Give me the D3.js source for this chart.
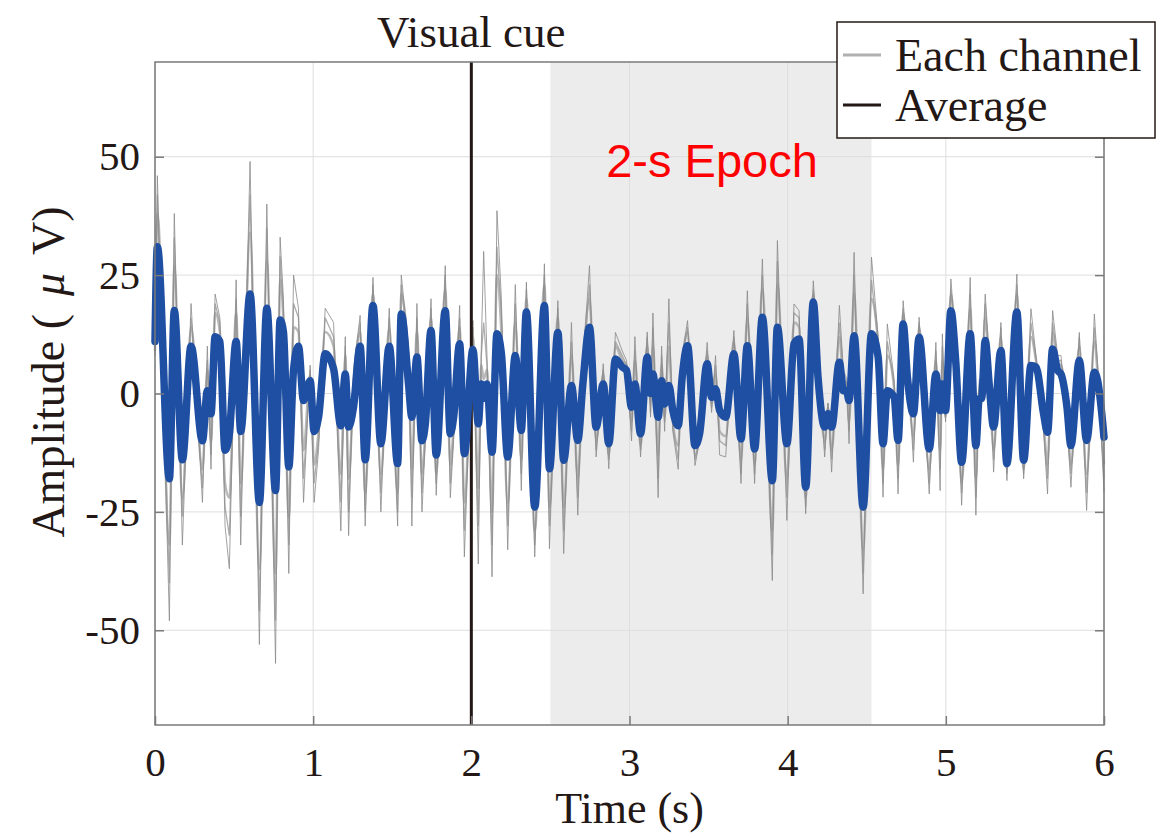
<!DOCTYPE html>
<html>
<head>
<meta charset="utf-8">
<script src="https://cdn.jsdelivr.net/npm/d3@7"></script>
<style>
  body { margin: 0; background: #fff; }
  svg { display: block; }
</style>
</head>
<body>
<svg id="chart" width="1165" height="835"></svg>
<script>
// times (s) of the turning points
var times = [0.000,0.015,0.091,0.122,0.173,0.228,0.300,0.331,0.354,0.380,0.410,0.443,0.470,0.513,0.542,0.601,0.660,0.707,0.762,0.791,0.812,0.846,0.876,0.907,0.939,0.981,
  1.006,1.034,1.076,1.129,1.175,1.203,1.224,1.255,1.297,1.329,1.378,1.428,1.481,1.534,1.557,1.603,1.624,1.656,1.688,1.709,1.745,1.778,1.835,1.867,1.888,1.926,1.956,
  2.010,2.044,2.063,2.078,2.099,2.131,2.162,2.190,2.230,2.278,2.316,2.348,2.401,2.462,2.494,2.547,2.584,2.633,2.673,2.705,2.747,2.789,2.834,2.869,2.911,2.954,2.981,
  3.013,3.034,3.070,3.112,3.133,3.148,3.181,3.203,3.222,3.249,3.274,3.308,3.333,3.367,3.414,3.443,3.491,3.519,3.544,3.570,3.608,3.660,3.705,3.745,3.791,3.840,3.903,3.935,3.995,
  4.040,4.072,4.114,4.162,4.192,4.234,4.255,4.278,4.327,4.352,4.373,4.388,4.420,4.477,4.530,4.572,4.603,4.630,4.673,4.698,4.730,4.757,4.795,4.831,4.895,4.937,4.964,4.978,4.998,
  5.032,5.063,5.100,5.154,5.190,5.211,5.226,5.249,5.274,5.302,5.348,5.386,5.449,5.492,5.538,5.570,5.618,5.643,5.675,5.707,5.728,5.766,5.791,5.844,5.890,5.939,5.960,6.000];

// average of all channels (uV)
var average = [11,31,-18,17.5,-14,10,-10,0.6,-4.3,12,11,-12,-8.5,11,-8,21,-23,18,-20.5,15.5,13,-15.5,5,10,-1.5,2.7,
  -8,-5,8.4,5.2,-6.8,4.1,-7.1,-2.9,10,-14,18.6,-10.6,10,-14.8,16.8,2,-5,7.7,-10,-6.4,13.3,-13,17.5,-8.5,-5,10.5,-12.7,
  9.3,-6.4,2,-1,2,-12.4,12.6,8.4,-13.4,8,-7.8,17.2,-24,18.6,-15.9,12.9,-14.1,1.7,-9.9,2,14,-7.1,2,-10.6,7.3,5.6,4.9,
  -2.9,2,-8.5,7.7,0,4.1,-5,2.7,-2.2,1.7,-3.6,-6.8,3.4,10.1,-11,-8.5,6.3,-0.8,1,-3.6,-5,8.4,-9.6,10.1,-11.7,16.1,-18.4,14,-10.6,
  10.5,11.5,-19.8,19.3,3.4,-7.1,-4.3,-7.1,6.6,0.6,0.6,-1.5,12.2,-24,12.6,7.7,-10.6,0.6,-0.8,-9.9,14.7,3.4,-4.3,11.9,-11.7,4.1,-3.6,2,-3.6,
  17.5,6.6,-14.5,12.6,-11,-1.1,-1.1,11.2,2,-7.1,9.1,-14.8,17.2,-14.1,5.9,5.6,-4.3,-8.2,9.4,4.9,4.1,-2.9,-11,7,-9.9,4.5,2.7,-9.2];

// channel reaching furthest out
var channelA = [8,46,-48,38,-32,19,-23,10,-16,21,16,-28,-37,24,-32,49,-53,40,-57,33,20,-38,25,18,-23,6,
  -23,-12,18,15,-29,12,-30,5,16.5,-28,24.5,-25,18,-28,25,10,-28,19,-25,-10,20,-21.5,27,-22,-10,18.6,-34.5,
  15.4,-36,10,30,8,-38.7,38.6,20,-33,23,-20.5,23.5,-34.5,27.4,-32.8,19.6,-33.8,15,-25.7,6,27,-13.4,6.3,-15.9,12.9,9,7,
  -10,12,-13.4,13,-5,17,-22,10,-8,20,-8,-16,8,15.4,-15.2,-10,10.8,-4,8,-13,-13.4,13.3,-19,21.7,-19,28.4,-39.5,32.3,-26.8,
  18.9,17.5,-25.4,23.8,8,-13.4,-2,-16.6,18.6,5,3,-10.6,29.8,-42.3,28.8,12,-21.9,14.7,3,-21.2,19.6,8,-14.5,16.1,-21.2,10.8,-20.5,12.6,-6,
  24.2,10,-23.6,24.5,-25.7,3,3,21,8,-16.6,15,-18.4,25.2,-18,17.9,8,-8,-21.2,17.5,8,8,-6,-19.8,12.9,-24.7,16.8,6,-20.8];

// a channel in the middle of the bundle
var channelB = [9,38,-32,27,-22,14,-16,5,-10,17,13,-19,-22,17,-19,34,-37,28,-38,24,15,-26,14,13,-12,4,
  -15,-8,13,10,-17,8,-18,1,13,-21,21,-17,14,-21,21,6,-16,13,-17,-8,16,-17,22,-15,-7,14,-23,
  12,-20,6,3,5,-25,25,13,-23,15,-14,20,-29,23,-24,16,-24,8,-18,4,20,-10,4,-13,10,7,6,
  -6,7,-11,10,-2,10,-13,6,-5,10,-6,-11,6,13,-13,-9,8,-2,4,-8,-9,11,-14,16,-15,22,-29,23,-18,
  15,14,-22,21,6,-10,-3,-12,12,3,2,-6,21,-33,20,10,-16,8,1,-15,17,6,-9,14,-16,7,-12,7,-5,
  21,8,-19,18,-18,1,1,16,5,-12,12,-16,21,-16,12,7,-6,-15,13,6,6,-4,-15,10,-17,11,4,-15];

// another channel, between the two
var channelC = [12,42,-40,33,-26,16,-20,7,-13,19,15,-24,-30,20,-26,42,-46,35,-48,29,17,-32,19,16,-18,5,
  -19,-10,16,12,-23,10,-25,3,15,-25,23,-21,16,-25,23,8,-22,16,-21,-9,18,-19,25,-19,-8,16,-29,
  14,-28,8,15,6,-32,31,17,-28,19,-17,22,-32,25,-28,18,-29,11,-22,5,23,-12,5,-14,11,8,6,
  -8,9,-12,12,-4,14,-18,8,-6,15,-7,-14,7,14,-14,-10,9,-3,6,-10,-11,12,-17,19,-17,25,-34,28,-22,
  17,16,-24,22,7,-12,-2,-14,15,4,2,-8,25,-38,24,11,-19,11,2,-18,18,7,-12,15,-19,9,-16,10,-5,
  22,9,-21,21,-22,2,2,19,6,-14,14,-17,23,-17,15,7,-7,-18,15,7,7,-5,-17,12,-21,14,5,-18];

var xTicks = [0, 1, 2, 3, 4, 5, 6];
var yTicks = [-50, -25, 0, 25, 50];
var epoch = [2.5, 4.53];
var cueTime = 2;
var legendLabels = ["Each channel", "Average"];

var svg = d3.select("#chart");
var pLeft = 155, pRight = 1104, pTop = 62, pBottom = 725;
var serif = "'Liberation Serif', 'Times New Roman', serif";
var ink = "#231815";

var x = d3.scaleLinear().domain([0, 6]).range([pLeft, pRight]);
var y = d3.scaleLinear().domain([-70, 70]).range([pBottom, pTop]);

// epoch shading
svg.append("rect")
    .attr("x", x(epoch[0])).attr("y", pTop)
    .attr("width", x(epoch[1]) - x(epoch[0])).attr("height", pBottom - pTop)
    .attr("fill", "#ececec");

// grid
svg.append("g").selectAll("line").data(xTicks).enter().append("line")
    .attr("x1", function (d) { return x(d); }).attr("x2", function (d) { return x(d); })
    .attr("y1", pTop).attr("y2", pBottom)
    .attr("stroke", "#dedede").attr("stroke-width", 1);
svg.append("g").selectAll("line").data(yTicks).enter().append("line")
    .attr("x1", pLeft).attr("x2", pRight)
    .attr("y1", function (d) { return y(d); }).attr("y2", function (d) { return y(d); })
    .attr("stroke", "#dedede").attr("stroke-width", 1);

var pts = function (vals) {
    return times.map(function (t, i) { return [t, vals[i]]; });
};

var mkLine = function (curve) {
    return d3.line().curve(curve).x(function (d) { return x(d[0]); }).y(function (d) { return y(d[1]); });
};

// each channel
svg.append("path").datum(pts(channelB)).attr("d", mkLine(d3.curveMonotoneX))
    .attr("fill", "none").attr("stroke", "#a3a3a3").attr("stroke-width", 2.5).attr("opacity", 0.75);
svg.append("path").datum(pts(channelC)).attr("d", mkLine(d3.curveLinear))
    .attr("fill", "none").attr("stroke", "#9a9a9a").attr("stroke-width", 1.3).attr("opacity", 0.8);
svg.append("path").datum(pts(channelA)).attr("d", mkLine(d3.curveLinear))
    .attr("fill", "none").attr("stroke", "#8a8a8a").attr("stroke-width", 1).attr("opacity", 0.8);

// visual cue line
svg.append("line")
    .attr("x1", x(cueTime)).attr("x2", x(cueTime)).attr("y1", pTop).attr("y2", pBottom)
    .attr("stroke", ink).attr("stroke-width", 3);

// average
svg.append("path").datum(pts(average)).attr("d", mkLine(d3.curveMonotoneX))
    .attr("fill", "none").attr("stroke", "#1f4fa3").attr("stroke-width", 7.5)
    .attr("stroke-linejoin", "round").attr("stroke-linecap", "round");

// axes box
svg.append("rect").attr("x", pLeft).attr("y", pTop).attr("width", pRight - pLeft).attr("height", pBottom - pTop)
    .attr("fill", "none").attr("stroke", "#7a7a7a").attr("stroke-width", 1.5);

var xAxis = d3.axisBottom(x).tickValues(xTicks).tickSize(-9).tickPadding(22).tickFormat(String);
var yAxis = d3.axisLeft(y).tickValues(yTicks).tickSize(-9).tickPadding(15).tickFormat(String);
var gx = svg.append("g").attr("transform", "translate(0," + pBottom + ")").call(xAxis);
var gy = svg.append("g").attr("transform", "translate(" + pLeft + ",0)").call(yAxis);
var gy2 = svg.append("g").attr("transform", "translate(" + pRight + ",0)")
    .call(d3.axisRight(y).tickValues(yTicks).tickSize(-9).tickFormat(""));
[gx, gy, gy2].forEach(function (g) {
    g.select(".domain").remove();
    g.selectAll(".tick line").attr("stroke", "#7a7a7a").attr("stroke-width", 1.5);
    g.selectAll("text").attr("font-family", serif).attr("font-size", 41).attr("fill", ink);
});

// titles
svg.append("text").attr("x", x(3)).attr("y", 823).attr("text-anchor", "middle")
    .attr("font-family", serif).attr("font-size", 44).attr("fill", ink).text("Time (s)");
var yt = svg.append("text").attr("transform", "translate(64,372) rotate(-90)").attr("text-anchor", "middle")
    .attr("font-family", serif).attr("font-size", 46).attr("fill", ink);
yt.append("tspan").text("Amplitude (");
yt.append("tspan").attr("dx", 18).attr("font-style", "italic").text("μ");
yt.append("tspan").attr("dx", 18).text("V)");
svg.append("text").attr("x", x(cueTime)).attr("y", 47).attr("text-anchor", "middle")
    .attr("font-family", serif).attr("font-size", 45).attr("fill", ink).text("Visual cue");
svg.append("text").attr("x", 712).attr("y", 177).attr("text-anchor", "middle")
    .attr("font-family", "'Liberation Sans', Arial, sans-serif").attr("font-size", 47).attr("fill", "#ff0000")
    .text("2-s Epoch");

// legend
var lg = svg.append("g");
lg.append("rect").attr("x", 837).attr("y", 22).attr("width", 318).attr("height", 116)
    .attr("fill", "#fff").attr("stroke", ink).attr("stroke-width", 1.5);
var legendColors = ["#b0b0b0", ink];
legendLabels.forEach(function (lab, i) {
    var yy = 55 + i * 50;
    lg.append("line").attr("x1", 843).attr("x2", 881).attr("y1", yy).attr("y2", yy)
        .attr("stroke", legendColors[i]).attr("stroke-width", 3);
    lg.append("text").attr("x", 895).attr("y", yy + 16).attr("font-family", serif)
        .attr("font-size", 46).attr("fill", ink).text(lab);
});
</script>
</body>
</html>
